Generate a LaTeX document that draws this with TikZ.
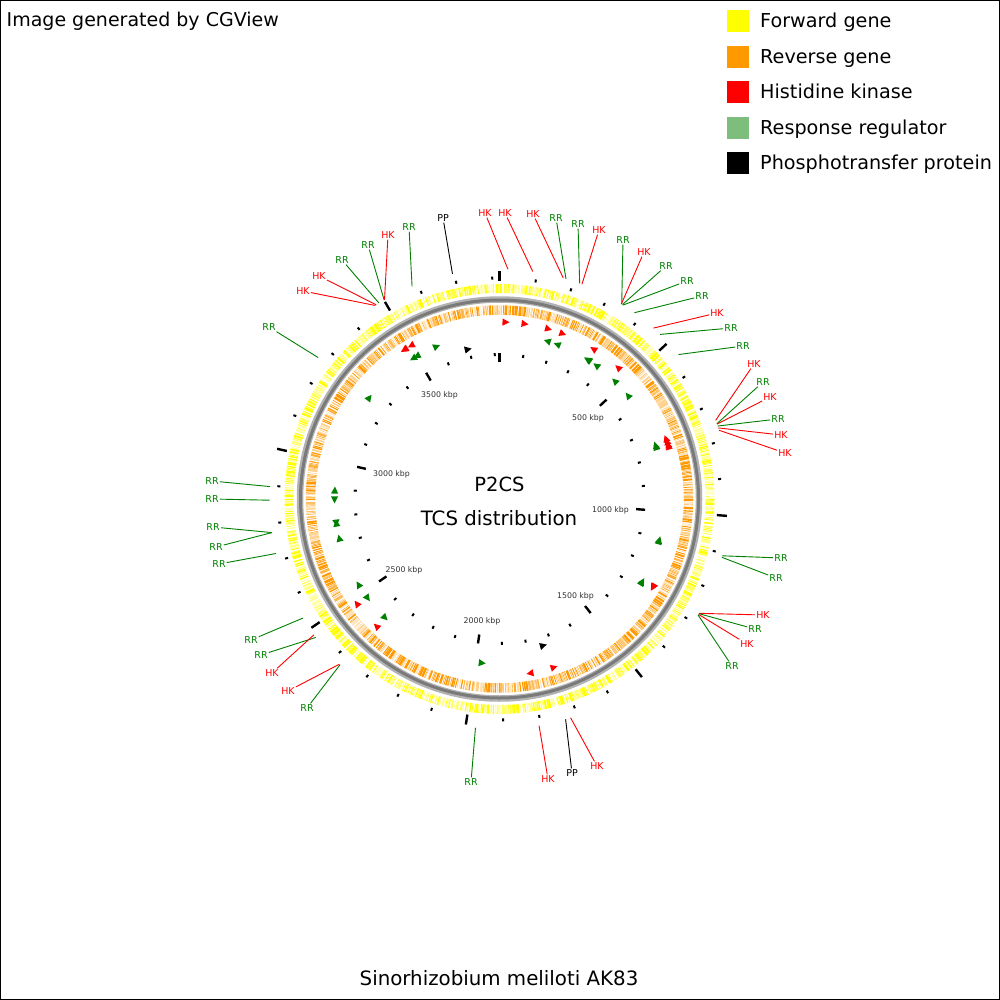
\documentclass[tikz,border=0pt]{standalone}
\usepackage{fontspec}
\setmainfont{DejaVu Sans}
\definecolor{hkred}{RGB}{255,0,0}
\definecolor{rrgreen}{RGB}{0,128,0}
\definecolor{fwdyel}{RGB}{255,255,0}
\definecolor{revorg}{RGB}{255,153,0}
\definecolor{leggreen}{RGB}{125,190,125}
\definecolor{tklab}{RGB}{50,50,50}

\newcommand\genering[5]{% seed, radius, width, colour, count
  \pgfmathsetseed{#1}%
  \xdef\gA{0}%
  \foreach \i in {1,...,#5}{%
    \pgfmathsetmacro\gW{0.1+0.9*rnd*rnd}%
    \pgfmathsetmacro\gG{0.08+0.55*rnd*rnd}%
    \pgfmathsetmacro\gR{rnd}%
    \pgfmathsetmacro\gO{\gR<0.5 ? 1 : 0.25+0.6*rnd}%
    \pgfmathtruncatemacro\gC{\gA+\gW<360}%
    \ifnum\gC=1
      \draw[#4, line width=#3, opacity=\gO] ({\gA-90}:#2) arc[start angle=\gA-90, delta angle=\gW, radius=#2];
    \fi
    \pgfmathsetmacro\gN{\gA+\gW+\gG}%
    \xdef\gA{\gN}%
  }%
}

\newcommand\tcs[8]{% name, angle, radius, dir, colour, label x, label y, text
  \pgfmathsetmacro\tcsD{3.5/#3*57.2958}%
  \fill[#5] ({#2-(#4)*\tcsD-90}:{#3-3.6}) -- ({#2-(#4)*\tcsD-90}:{#3+3.6}) -- ({#2+(#4)*\tcsD-90}:{#3}) -- cycle;
  \coordinate (#1a) at ({#2-90}:230);
  \node[lbl, text=#5] (#1) at ({#6-499.5},{#7-499}) {#8};
  \draw[#5, line width=0.9pt] (#1a) -- (#1);
}
\newcommand\fHK[5]{\tcs{#1}{#2}{177}{#3}{hkred}{#4}{#5}{HK}}
\newcommand\fRR[5]{\tcs{#1}{#2}{165}{#3}{rrgreen}{#4}{#5}{RR}}
\newcommand\fPP[5]{\tcs{#1}{#2}{153}{#3}{black}{#4}{#5}{PP}}

\begin{document}
\begin{tikzpicture}[x=1pt,y=-1pt,
  lbl/.style={font=\fontsize{9.5}{10}\selectfont, inner sep=1pt},
  legbox/.style={minimum size=22pt, inner sep=0pt, outer sep=0pt},
  legtxt/.style={font=\fontsize{19.2}{21}\selectfont, inner sep=0pt, anchor=base west},
  tick/.style={font=\fontsize{7.8}{9}\selectfont, text=tklab, inner sep=0pt, anchor=base}]
\useasboundingbox (0,0) rectangle (1000,1000);
\fill[white] (0,0) rectangle (1000,1000);
\draw[black, line width=1pt] (0.5,0.5) rectangle (999.5,999.5);

% header and legend
\node[font=\fontsize{19}{21}\selectfont, inner sep=0pt, anchor=base west] (hdr) at (6.5,26.5) {Image generated by CGView};
\node[legbox, fill=fwdyel] (k1) at (738,21) {};
\node[legbox, fill=revorg] (k2) at (738,57) {};
\node[legbox, fill=hkred] (k3) at (738,92) {};
\node[legbox, fill=leggreen] (k4) at (738,128) {};
\node[legbox, fill=black] (k5) at (738,163) {};
\node[legtxt] (t1) at (760,27.8) {Forward gene};
\node[legtxt] (t2) at (760,63.8) {Reverse gene};
\node[legtxt] (t3) at (760,98.8) {Histidine kinase};
\node[legtxt] (t4) at (760,134.8) {Response regulator};
\node[legtxt] (t5) at (760,169.8) {Phosphotransfer protein};

\node[font=\fontsize{19.8}{21}\selectfont, inner sep=0pt] (ttl) at (499,978) {Sinorhizobium meliloti AK83};
\node[font=\fontsize{19.5}{21}\selectfont, inner sep=0pt] (c1) at (499.5,484) {P2CS};
\node[font=\fontsize{19.8}{21}\selectfont, inner sep=0pt] (c2) at (499,518) {TCS distribution};

% tick labels
\node[tick] (k500) at (588,420) {500 kbp};
\node[tick] (k1000) at (610.5,512) {1000 kbp};
\node[tick] (k1500) at (575.5,598) {1500 kbp};
\node[tick] (k2000) at (482,623) {2000 kbp};
\node[tick] (k2500) at (404,572) {2500 kbp};
\node[tick] (k3000) at (391.5,476) {3000 kbp};
\node[tick] (k3500) at (439.5,397) {3500 kbp};

\begin{scope}[shift={(499.5,499)}]
  % gene rings
  \genering{11}{210.5}{9pt}{fwdyel}{1000}
  \genering{29}{189}{9.5pt}{revorg}{1000}
  % backbone
  \draw[black!30, line width=6.5pt] (0,0) circle[radius=199.5];
  \draw[black!52, line width=3pt] (0,0) circle[radius=199];
  % ticks
  \foreach \k in {0,...,38}{%
    \pgfmathsetmacro\tA{\k*36/3.82-90}%
    \pgfmathtruncatemacro\tM{mod(\k,5)}%
    \ifnum\tM=0
      \draw[line width=2.4pt] (\tA:218) -- (\tA:228);
      \draw[line width=2.4pt] (\tA:137) -- (\tA:146);
    \else
      \draw[line width=2pt] (\tA:219.5) -- (\tA:222.5);
      \draw[line width=2pt] (\tA:143) -- (\tA:146);
    \fi
  }
  % features
  \fRR{r1}{307.95}{1}{269}{327}
  \fHK{h1}{327.3}{-1}{303}{291}
  \fHK{h2}{327.6}{-1}{319}{276}
  \fRR{r2}{328.4}{-1}{342}{260}
  \fRR{r3}{329.9}{-1}{368}{245}
  \fHK{h3}{330.0}{-1}{388}{235}
  \fRR{r4}{337.65}{1}{409}{227}
  \fPP{p1}{348.2}{1}{443}{218}
  \fHK{h4}{2.1}{1}{485}{213}
  \fHK{h5}{8.3}{1}{505}{213}
  \fHK{h6}{16.1}{1}{533}{214}
  \fRR{r5}{16.8}{-1}{556}{218}
  \fRR{r6}{20.4}{-1}{578}{224}
  \fHK{h7}{21.0}{1}{599}{230}
  \fRR{r7}{32.1}{-1}{623}{240}
  \fHK{h8}{32.0}{-1}{644}{252}
  \fRR{r8}{32.3}{-1}{666}{266}
  \fRR{r9}{32.5}{-1}{687}{281}
  \fRR{r10}{35.9}{-1}{702}{296}
  \fHK{h9}{42.0}{-1}{717}{313}
  \fRR{r11}{44.3}{-1}{731}{328}
  \fRR{r12}{51.1}{-1}{743}{346}
  \fHK{h10}{70.0}{-1}{754}{364}
  \fRR{r13}{70.9}{-1}{763}{382}
  \fHK{h11}{71.0}{-1}{770}{397}
  \fRR{r14}{71.5}{-1}{778}{419}
  \fHK{h12}{72.0}{-1}{781}{435}
  \fHK{h13}{72.6}{-1}{785}{453}
  \fRR{r15}{104.3}{-1}{781}{558}
  \fRR{r16}{104.7}{-1}{776}{578}
  \fHK{h14}{119.8}{1}{763}{615}
  \fRR{r17}{119.9}{-1}{755}{629}
  \fHK{h15}{120.1}{1}{747}{644}
  \fRR{r18}{120.3}{-1}{732}{666}
  \fHK{h16}{162.0}{-1}{597}{766}
  \fPP{p2}{163.3}{-1}{572}{773}
  \fHK{h17}{170.1}{1}{548}{779}
  \fRR{r19}{186.0}{-1}{471}{782}
  \fRR{r20}{223.9}{-1}{307}{708}
  \fHK{h18}{224.1}{1}{288}{691}
  \fRR{r21}{233.0}{-1}{261}{655}
  \fHK{h19}{233.8}{1}{272}{673}
  \fRR{r22}{238.8}{1}{251}{640}
  \fRR{r23}{256.3}{1}{219}{564}
  \fRR{r24}{261.6}{-1}{213}{527}
  \fRR{r25}{261.6}{1}{216}{547}
  \fRR{r26}{269.7}{-1}{212}{499}
  \fRR{r27}{273.1}{1}{212}{481}
\end{scope}
\end{tikzpicture}
\end{document}
